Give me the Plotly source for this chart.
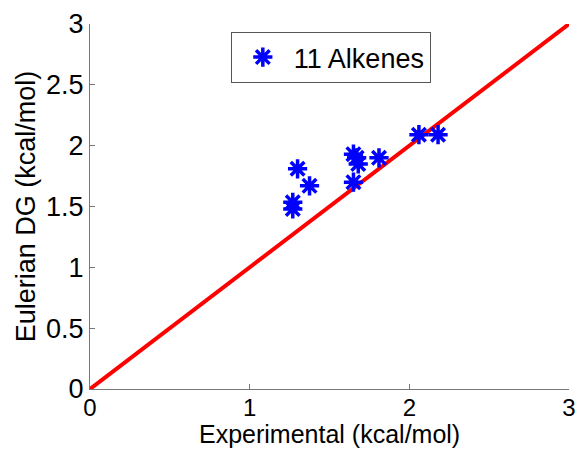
import plotly.graph_objects as go

experimental = [1.30, 1.375, 1.27, 1.27, 1.65, 1.67, 1.68, 1.65, 1.81, 2.06, 2.18]
eulerian_dg = [1.81, 1.67, 1.535, 1.48, 1.93, 1.90, 1.85, 1.70, 1.90, 2.09, 2.09]
line_x = [0, 3]
line_y = [0, 3]
tick_vals_x = [0, 1, 2, 3]
tick_vals_y = [0, 0.5, 1, 1.5, 2, 2.5, 3]
tick_text_y = ["0", "0.5", "1", "1.5", "2", "2.5", "3"]
x_title = "Experimental (kcal/mol)"
y_title = "Eulerian DG (kcal/mol)"

fig = go.Figure()
fig.add_trace(go.Scatter(
    x=line_x, y=line_y, mode="lines",
    line=dict(color="#ff0000", width=4), showlegend=False,
))
fig.add_trace(go.Scatter(
    x=experimental, y=eulerian_dg, mode="markers", name="11 Alkenes",
    marker=dict(symbol="asterisk-open", size=16, color="#0000ff",
                line=dict(color="#0000ff", width=3.5)),
))

fig.update_layout(
    width=577, height=449,
    margin=dict(l=90, r=8, t=24, b=60),
    paper_bgcolor="white", plot_bgcolor="white",
    font=dict(family="Liberation Sans, Arial, sans-serif", color="black"),
    legend=dict(x=0.294, y=0.978, xanchor="left", yanchor="top",
                bordercolor="#555", borderwidth=1, bgcolor="white",
                font=dict(size=27), itemwidth=52, tracegroupgap=0),
    xaxis=dict(range=[0, 3], tickvals=tick_vals_x, showgrid=False, zeroline=False,
               showline=True, linecolor="#777", linewidth=1,
               ticks="inside", ticklen=5, tickcolor="#777",
               tickfont=dict(size=24), automargin=False, ticklabelstandoff=-3),
    yaxis=dict(range=[0, 3], tickvals=tick_vals_y, ticktext=tick_text_y,
               showgrid=False, zeroline=False,
               showline=True, linecolor="#777", linewidth=1,
               ticks="inside", ticklen=5, tickcolor="#777",
               tickfont=dict(size=27), automargin=False,
               title=dict(text=y_title, font=dict(size=27), standoff=2)),
    annotations=[dict(text=x_title, xref="paper", yref="paper", x=0.5, y=-0.124,
                      xanchor="center", yanchor="middle", showarrow=False,
                      font=dict(size=25))],
)

fig.write_html("out.html")
